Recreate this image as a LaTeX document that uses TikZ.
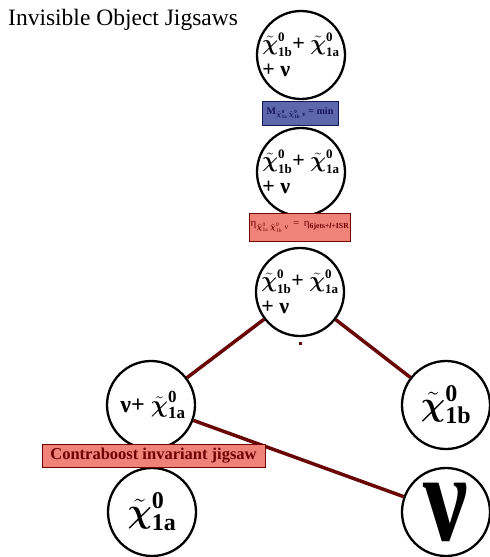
\RequirePackage{fix-cm}
\documentclass[tikz,border=0pt]{standalone}
\usepackage{amsmath}
\usepackage{graphicx}
\usepackage{fontspec}
\setmainfont{Liberation Serif}
\definecolor{lnred}{RGB}{105,5,5}
\definecolor{salmonfill}{RGB}{240,130,122}
\definecolor{slatefill}{RGB}{92,104,170}
\definecolor{navytext}{RGB}{20,20,90}
\definecolor{dredtext}{RGB}{110,0,0}
% chi-tilde with fixed-size scripts: #1 script size, #2 subscript text
\newcommand{\xs}[2]{\tilde{\boldsymbol{\chi}}^{\mbox{\fontsize{#1}{#1}\selectfont\bfseries 0}}_{\mbox{\fontsize{#1}{#1}\selectfont\bfseries #2}}}
% chi-tilde with scripts scaled by math style
\newcommand{\xt}[1]{\tilde{\boldsymbol{\chi}}^{\text{0}}_{\text{#1}}}
\begin{document}
\begin{tikzpicture}[x=1pt,y=-1pt,
  circ/.style={circle,draw=black,line width=2.3pt,minimum size=88pt,inner sep=-12pt,fill=white},
  link/.style={draw=lnred,line width=3.5pt},
  bluebox/.style={rectangle,draw=navytext,line width=1pt,fill=slatefill,text=navytext,inner sep=1pt,minimum width=76pt,minimum height=24pt},
  pinkbox/.style={rectangle,draw=dredtext,line width=1pt,fill=salmonfill,text=dredtext,inner sep=1pt},
  sumtext/.style={align=left,font=\fontsize{22}{23}\selectfont\bfseries}
]
\useasboundingbox (0,0) rectangle (490,557);

% title
\node[anchor=base west,inner sep=0pt,font=\fontsize{23.5}{26}\selectfont] (title) at (8,25) {Invisible Object Jigsaws};

% circles
\node[circ,sumtext] (c1) at (301,55) {$\xs{13}{1b}$+ $\xs{13}{1a}$\\[3pt]+ ν};
\node[circ,sumtext] (c2) at (301,172) {$\xs{13}{1b}$+ $\xs{13}{1a}$\\[3pt]+ ν};
\node[circ,sumtext] (c3) at (300,292) {$\xs{13}{1b}$+ $\xs{13}{1a}$\\[3pt]+ ν};

\node[circ,font=\fontsize{24}{28}\selectfont\bfseries] (cl) at (151,405) {\hspace{4pt}ν+ $\xs{17}{1a}$};
\node[circ,font=\fontsize{34}{38}\selectfont\bfseries] (cr) at (446,405) {$\xs{24}{1b}$};
\node[circ,font=\fontsize{34}{38}\selectfont\bfseries] (bl) at (152,512) {$\xs{24}{1a}$};
\node[circ,inner sep=-25pt] (nu) at (446,512) {\scalebox{1}[1.25]{\fontsize{100}{100}\selectfont\bfseries ν}};

% connectors
\draw[link] (c3) -- (cl);
\draw[link] (c3) -- (cr);
\draw[link] (cl) -- (nu);

% dot
\node[fill=lnred,minimum size=3pt,inner sep=0pt] (dot) at (300,343) {};

% boxes
\node[bluebox,font=\fontsize{10}{12}\selectfont\bfseries] (mbox) at (300,113)
  {M$_{\xt{1a}\,\xt{1b}\;\text{ν}}$ = min};
\node[pinkbox,minimum width=97pt,minimum height=28pt,font=\fontsize{11}{13}\selectfont] (ebox) at (300,227)
  {η$_{\xt{1a}\,\xt{1b}\;\text{ν}}$ \,=\, η$_{\text{\bfseries 6jets+\itshape l\upshape+ISR}}$};
\node[pinkbox,minimum width=223pt,minimum height=23pt,font=\fontsize{16.5}{19}\selectfont\bfseries] (cbox) at (153.5,455.5)
  {Contraboost invariant jigsaw};
\end{tikzpicture}
\end{document}
